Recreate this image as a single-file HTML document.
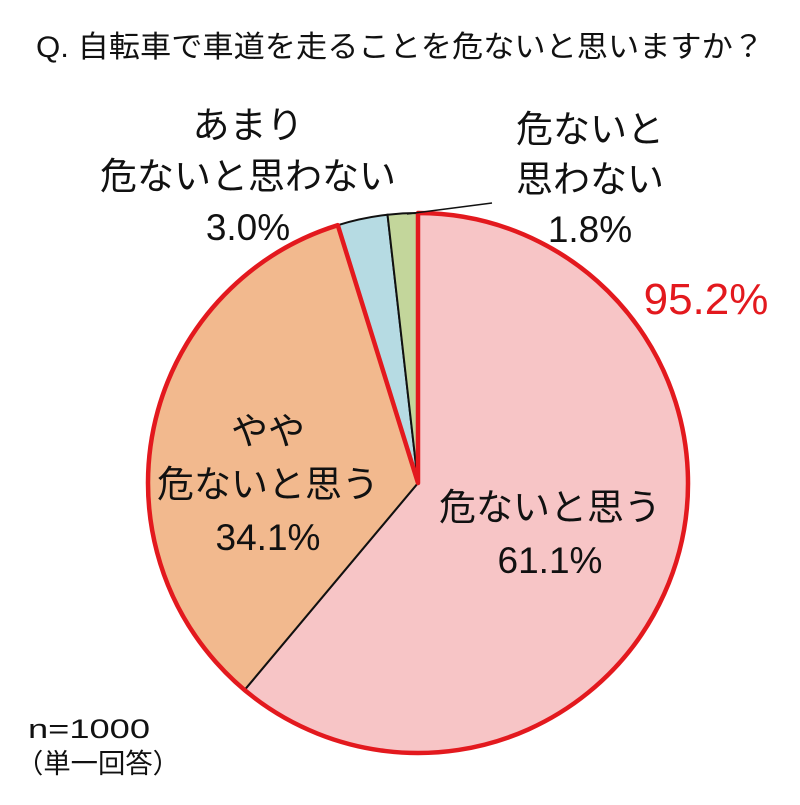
<!DOCTYPE html>
<html><head><meta charset="utf-8"><style>
html,body{margin:0;padding:0;background:#fff;}
svg text{font-family:"Liberation Sans","Noto Sans CJK JP",sans-serif;fill:#111;}
</style></head><body>
<svg id="chart" width="800" height="800" viewBox="0 0 800 800">
<text x="36" y="57" font-size="30" textLength="728" lengthAdjust="spacingAndGlyphs">Q. 自転車で車道を走ることを危ないと思いますか？</text>
<g id="slices"></g>
<g id="labels"></g>
<text x="706" y="314" font-size="44" style="fill:#e3191e" text-anchor="middle">95.2%</text>
<line x1="407" y1="214" x2="492" y2="203" stroke="#111" stroke-width="1.5"/>
<text x="28" y="738" font-size="27" textLength="122" lengthAdjust="spacingAndGlyphs">n=1000</text>
<text x="16" y="773" font-size="27" textLength="164" lengthAdjust="spacingAndGlyphs">（単一回答）</text>
</svg>
<script>
const categories = ["危ないと思う","やや危ないと思う","あまり危ないと思わない","危ないと思わない"];
const values = [61.1, 34.1, 3.0, 1.8];
const colors = ["#f7c5c6","#f2b98e","#b6dbe3","#c3d69b"];
const labelLines = [["危ないと思う","61.1%"],["やや","危ないと思う","34.1%"],["あまり","危ないと思わない","3.0%"],["危ないと","思わない","1.8%"]];
const labelPos = [[550,520,53],[268,444,53],[248,138,51],[590,142,50]];
const cx=418, cy=483, r=270;
const NS="http://www.w3.org/2000/svg";
const total = values.reduce((a,b)=>a+b,0);
function pt(frac,rad){const a=frac*2*Math.PI;return [cx+rad*Math.sin(a), cy-rad*Math.cos(a)];}
function wedge(f0,f1){const p0=pt(f0,r),p1=pt(f1,r);const large=(f1-f0)>0.5?1:0;
 return `M${cx},${cy} L${p0[0]},${p0[1]} A${r},${r} 0 ${large} 1 ${p1[0]},${p1[1]} Z`;}
const g=document.getElementById('slices');
let acc=0;
values.forEach((v,i)=>{
 const f0=acc/total; acc+=v; const f1=acc/total;
 const p=document.createElementNS(NS,'path');
 p.setAttribute('d',wedge(f0,f1));
 p.setAttribute('fill',colors[i]);
 p.setAttribute('stroke','#111');
 p.setAttribute('stroke-width','2');
 
 
 g.appendChild(p);
});
const redEnd=(values[0]+values[1])/total;
const rp=document.createElementNS(NS,'path');
rp.setAttribute('d',wedge(0,redEnd));
rp.setAttribute('fill','none');
rp.setAttribute('stroke','#e3191e');
rp.setAttribute('stroke-width','4.5');
rp.setAttribute('stroke-linejoin','round');


g.appendChild(rp);
const lg=document.getElementById('labels');
labelLines.forEach((lines,i)=>{
 const [x,y,lh]=labelPos[i];
 const t=document.createElementNS(NS,'text');
 t.setAttribute('x',x);t.setAttribute('y',y);
 t.setAttribute('font-size','37');
 t.setAttribute('text-anchor','middle');
 
 
 lines.forEach((s,j)=>{const ts=document.createElementNS(NS,'tspan');ts.setAttribute('x',x);ts.setAttribute('dy',j?lh:0);ts.textContent=s;t.appendChild(ts);});
 lg.appendChild(t);
});
</script>
</body></html>
